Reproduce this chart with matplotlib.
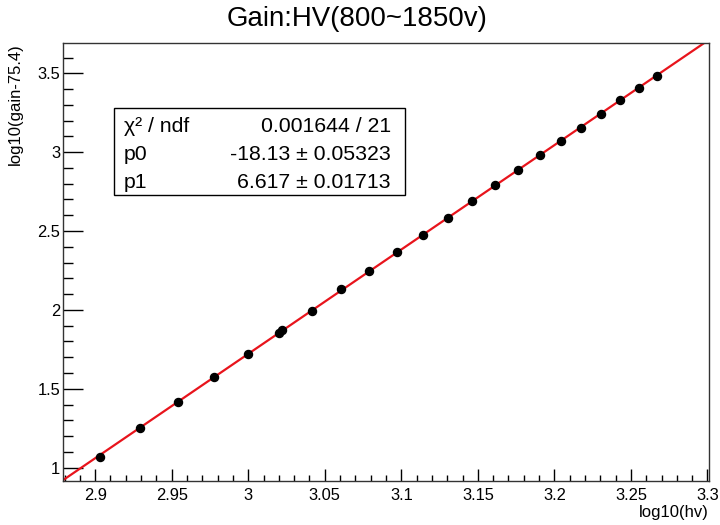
import numpy as np
import matplotlib
matplotlib.use('Agg')
import matplotlib.pyplot as plt
from matplotlib.ticker import MultipleLocator, FormatStrFormatter

plt.rcParams['font.family'] = ['Liberation Sans', 'DejaVu Sans']

# measured points
hv = [800, 850, 900, 950, 1000, 1048, 1052, 1100, 1150, 1200, 1250, 1300,
      1350, 1400, 1450, 1500, 1550, 1600, 1650, 1700, 1750, 1800, 1850]
log_gain = [1.07, 1.25, 1.415, 1.575, 1.72, 1.855, 1.87, 1.995, 2.13, 2.245,
            2.365, 2.475, 2.58, 2.69, 2.79, 2.885, 2.98, 3.07, 3.155, 3.245,
            3.33, 3.405, 3.485]

# fit results
p0, p0_err = -18.13, 0.05323
p1, p1_err = 6.617, 0.01713
chi2, ndf = 0.001644, 21

x = np.log10(hv)

fig = plt.figure(figsize=(7.2, 5.25), dpi=100)
ax = fig.add_axes([63/720, 44/525, 646/720, 438/525])

xfit = np.linspace(2.879, 3.3, 200)
ax.plot(xfit, p0 + p1 * xfit, color='#e8141c', lw=1.6, zorder=2)
ax.plot(x, log_gain, 'o', color='black', ms=5.8, zorder=3)

ax.set_xlim(2.879, 3.301)
ax.set_ylim(0.915, 3.692)

ax.xaxis.set_major_locator(MultipleLocator(0.05))
ax.xaxis.set_minor_locator(MultipleLocator(0.01))
ax.yaxis.set_major_locator(MultipleLocator(0.5))
ax.yaxis.set_minor_locator(MultipleLocator(0.1))
ax.xaxis.set_major_formatter(FormatStrFormatter('%g'))
ax.yaxis.set_major_formatter(FormatStrFormatter('%g'))

ax.tick_params(axis='x', which='major', direction='in', length=8.6, width=1,
               labelsize=11.9, pad=5)
ax.tick_params(axis='x', which='minor', direction='in', length=4.3, width=1)
ax.tick_params(axis='y', which='major', direction='in', length=14.4, width=1,
               labelsize=11.9, pad=2)
ax.tick_params(axis='y', which='minor', direction='in', length=7.2, width=1)
for s in ax.spines.values():
    s.set_color('#333333')
    s.set_linewidth(1.0)

fig.text(357/720, 1 - 19/525, 'Gain:HV(800~1850v)', ha='center', va='center',
         fontsize=19.9)
fig.text(709/720, 1 - 512/525, 'log10(hv)', ha='right', va='center',
         fontsize=12)
fig.text(15/720, 1 - 43/525, 'log10(gain-75.4)', ha='center', va='top',
         rotation=90, fontsize=12)

# stats box
box = plt.Rectangle((114/720, 1 - 195/525), (405 - 114)/720, 87/525,
                    transform=fig.transFigure, facecolor='white',
                    edgecolor='black', lw=1.0, zorder=5)
fig.patches.append(box)
rows = [('χ² / ndf', '%g / %d' % (chi2, ndf)),
        ('p0', '%g ± %g' % (p0, p0_err)),
        ('p1', '%g ± %g' % (p1, p1_err))]
for i, (lab, val) in enumerate(rows):
    yb = 1 - (131.6 + 28 * i) / 525
    fig.text(124/720, yb, lab, ha='left', va='baseline', fontsize=15.3, zorder=6)
    fig.text(391/720, yb, val, ha='right', va='baseline', fontsize=15.3, zorder=6)

fig.savefig('out.png', dpi=100)
